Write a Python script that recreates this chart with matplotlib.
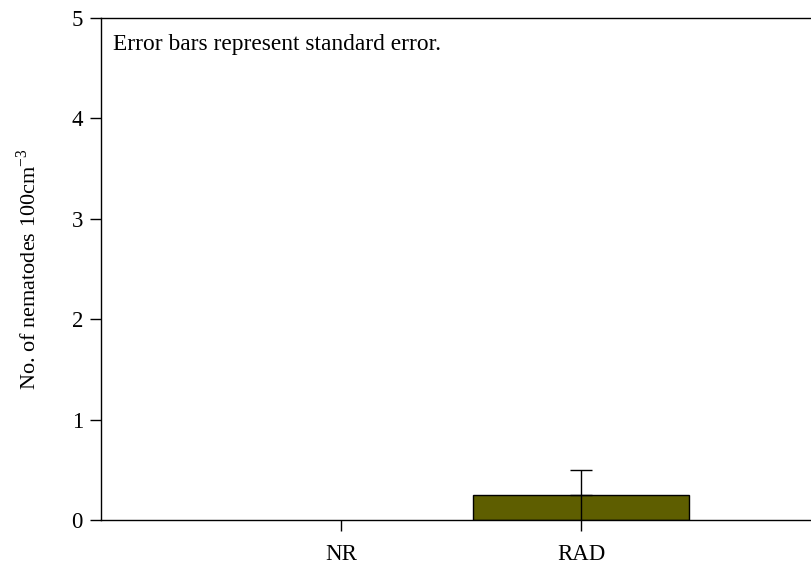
import numpy as np
import matplotlib.pyplot as plt

# treatment groups and means (nematodes per 100 cm^3)
groups = ["NR", "RAD"]
means = [0.0, 0.25]
se = [0.0, 0.25]

plt.rcParams['font.family'] = ['Liberation Serif', 'DejaVu Serif']

fig = plt.figure(figsize=(8.12, 5.71), dpi=100)
ax = fig.add_axes([101 / 812, 1 - 520 / 571, 711 / 812, 502 / 571])

x = np.arange(len(groups))
m = np.array(means)
e = np.array(se)
shown = m > 0
ax.bar(x[shown], m[shown], width=0.9, color="#5e5e00", edgecolor="black", linewidth=1.0, zorder=2)
# error line runs through the bar, cap only on top
ax.errorbar(x[shown], m[shown], yerr=[np.zeros(shown.sum()), e[shown]], fmt="none",
            ecolor="black", elinewidth=1.0, capsize=8, capthick=1.0, zorder=3)
ax.vlines(x[shown], 0, m[shown], color="black", linewidth=1.0, zorder=3)

ax.set_xlim(-1, 1 + 231 / 240)
ax.set_ylim(0, 5)
ax.set_yticks(range(6))
ax.set_xticks(x)
ax.set_xticklabels(groups)
ax.tick_params(direction="out", length=8, width=1, labelsize=16.5, pad=5)
ax.tick_params(axis="x", pad=9)
ax.spines["right"].set_visible(False)
for s in ["left", "bottom", "top"]:
    ax.spines[s].set_linewidth(1.0)

ax.set_ylabel("No. of nematodes 100cm$^{\\mathregular{-3}}$", fontsize=16, labelpad=22)
ax.text(0.017, 0.968, "Error bars represent standard error.", transform=ax.transAxes,
        fontsize=16.8, va="top", ha="left")

fig.savefig("out.png", dpi=100)
